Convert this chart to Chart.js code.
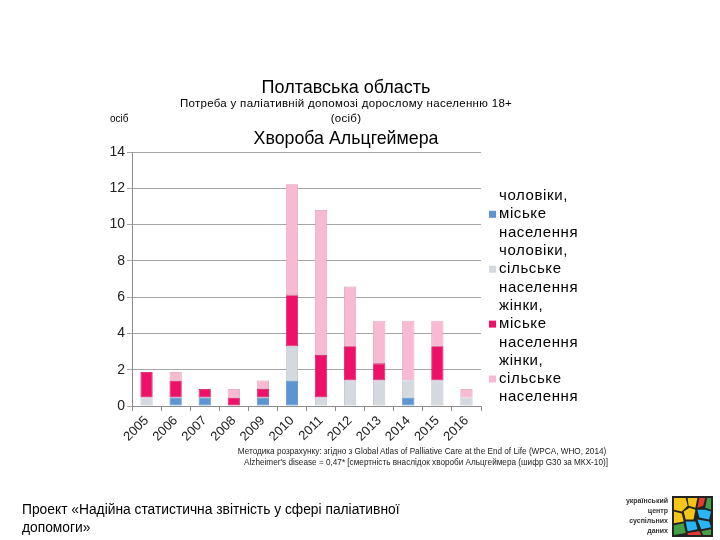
<!DOCTYPE html>
<html>
<head>
<meta charset="utf-8">
<script src="https://cdn.jsdelivr.net/npm/chart.js@4/dist/chart.umd.min.js"></script>
<style>
  html, body { margin:0; padding:0; background:#fff; }
  body { width:720px; height:540px; position:relative; overflow:hidden; font-family:"Liberation Sans", Arial, sans-serif; color:#000; }
  #wrap { position:absolute; left:0; top:0; width:720px; height:540px; }
  .t { position:absolute; white-space:nowrap; }
  .c { transform:translateX(-50%); text-align:center; }
</style>
</head>
<body>
<div id="wrap"><canvas id="chart"></canvas></div>

<div class="t c" style="left:346px; top:77px; font-size:18px; line-height:20px;">Полтавська область</div>
<div class="t c" style="left:346px; top:96px; font-size:11.5px; line-height:14px; letter-spacing:0.3px;">Потреба у паліативній допомозі дорослому населенню 18+</div>
<div class="t c" style="left:346px; top:111px; font-size:11.5px; line-height:14px; letter-spacing:0.3px;">(осіб)</div>
<div class="t c" style="left:346px; top:128px; font-size:17.8px; line-height:20px;">Хвороба Альцгеймера</div>
<div class="t" style="left:110px; top:113px; font-size:10px; line-height:12px;">осіб</div>

<div class="t c" style="left:422px; top:447px; font-size:8.2px; line-height:10px; color:#222;">Методика розрахунку: згідно з Global Atlas of Palliative Care at the End of Life (WPCA, WHO, 2014)</div>
<div class="t c" style="left:426px; top:458px; font-size:8.2px; line-height:10px; color:#222;">Alzheimer's disease = 0,47* [смертність внаслідок хвороби Альцгеймера (шифр G30 за МКХ-10)]</div>

<div class="t" style="left:22px; top:501px; font-size:13.8px; line-height:18px;">Проект «Надійна статистична звітність у сфері паліативної<br>допомоги»</div>

<div class="t" style="left:598px; top:496px; width:70px; text-align:right; font-size:7px; line-height:10px; font-weight:bold; color:#333;">український<br>центр<br>суспільних<br>даних</div>
<svg class="t" style="left:672px; top:496px;" width="41" height="41" viewBox="0 0 42 42">
  <rect x="0" y="0" width="42" height="42" fill="#222"/>
  <polygon points="2,2 14,2 16,10 10,16 2,14" fill="#F5C518"/>
  <polygon points="16,2 26,2 24,12 17,10" fill="#F5C518"/>
  <polygon points="28,2 34,2 32,10 26,12" fill="#E53935"/>
  <polygon points="36,2 40,2 40,14 34,12" fill="#43A047"/>
  <polygon points="2,16 10,18 12,26 2,28" fill="#F5C518"/>
  <polygon points="12,16 18,12 24,14 22,24 14,24" fill="#F5C518"/>
  <polygon points="26,14 34,14 40,16 38,24 28,22" fill="#29B6F6"/>
  <polygon points="2,30 12,28 14,38 2,40" fill="#43A047"/>
  <polygon points="14,26 24,26 26,34 16,36" fill="#29B6F6"/>
  <polygon points="26,24 38,26 40,32 30,34" fill="#29B6F6"/>
  <polygon points="16,38 28,36 30,40 16,40" fill="#E53935"/>
  <polygon points="30,36 40,34 40,40 32,40" fill="#43A047"/>
</svg>

<script>
const years = ['2005','2006','2007','2008','2009','2010','2011','2012','2013','2014','2015','2016'];
const seriesNames = ['чоловіки, міське населення','чоловіки, сільське населення','жінки, міське населення','жінки, сільське населення'];
const urbanMen   = [0, 0.47, 0.47, 0, 0.47, 1.41, 0, 0, 0, 0.47, 0, 0];
const ruralMen   = [0.47, 0, 0, 0, 0, 1.88, 0.47, 1.41, 1.41, 0.94, 1.41, 0.47];
const urbanWomen = [1.41, 0.94, 0.47, 0.47, 0.47, 2.82, 2.35, 1.88, 0.94, 0, 1.88, 0];
const ruralWomen = [0, 0.47, 0, 0.47, 0.47, 6.11, 7.99, 3.29, 2.35, 3.29, 1.41, 0.47];
const yTicks = [0, 2, 4, 6, 8, 10, 12, 14];

const fills   = ['#5D94D2', '#D4D9E0', '#EE1167', '#F8BAD2'];
const borders = ['#4C7FB8', '#B4B9C1', '#C90D57', '#D89CB3'];
const values  = [urbanMen, ruralMen, urbanWomen, ruralWomen];

const FONT = '"Liberation Sans", Arial, sans-serif';

const legendPlugin = {
  id: 'wrapLegend',
  afterDraw(chart, args, opts) {
    const ctx = chart.ctx;
    ctx.save();
    ctx.font = opts.fontSize + 'px ' + FONT;
    try { ctx.letterSpacing = opts.letterSpacing; } catch (e) {}
    ctx.textBaseline = 'middle';
    ctx.fillStyle = '#000';
    let line = 0;
    chart.data.datasets.forEach((ds) => {
      const words = ds.label.split(' ');
      words.forEach((w, i) => {
        const y = opts.y + line * opts.lineHeight;
        if (i === 1) {
          ctx.fillStyle = ds.backgroundColor;
          ctx.fillRect(opts.boxX, y - opts.box / 2, opts.box, opts.box);
          ctx.fillStyle = '#000';
          ctx.fillText(w, opts.textX, y);
        } else {
          ctx.fillText(w, opts.otherX, y);
        }
        line++;
      });
    });
    ctx.restore();
  }
};

new Chart(document.getElementById('chart'), {
  type: 'bar',
  data: {
    labels: years,
    datasets: values.map((v, i) => ({
      label: seriesNames[i],
      data: v,
      backgroundColor: fills[i],
      borderColor: borders[i],
      borderWidth: (c) => (c.raw ? 0.8 : 0),
      borderSkipped: false,
      barPercentage: 0.42,
      categoryPercentage: 1
    }))
  },
  options: {
    responsive: true,
    maintainAspectRatio: false,
    animation: false,
    layout: { padding: { left: 100, top: 152, right: 239, bottom: 89 } },
    plugins: {
      legend: { display: false },
      tooltip: { enabled: false },
      wrapLegend: { y: 196, lineHeight: 18.3, boxX: 489, box: 7, textX: 499, otherX: 499, fontSize: 15, letterSpacing: '0.6px' }
    },
    scales: {
      x: {
        stacked: true,
        afterFit(s) { s.height = 45; },
        grid: { display: true, drawOnChartArea: false, offset: true, tickLength: 5, color: '#8C8C8C' },
        border: { color: '#8C8C8C' },
        ticks: { minRotation: 45, maxRotation: 45, padding: 2, color: '#222', font: { family: FONT, size: 13 } }
      },
      y: {
        stacked: true,
        min: 0, max: 14,
        afterFit(s) { s.width = 32; },
        afterBuildTicks(s) { s.ticks = yTicks.map(v => ({ value: v })); },
        grid: { color: '#A6A6A6', tickLength: 5 },
        border: { color: '#8C8C8C' },
        ticks: { padding: 2, color: '#222', font: { family: FONT, size: 14 } }
      }
    }
  },
  plugins: [legendPlugin]
});
</script>
</body>
</html>
